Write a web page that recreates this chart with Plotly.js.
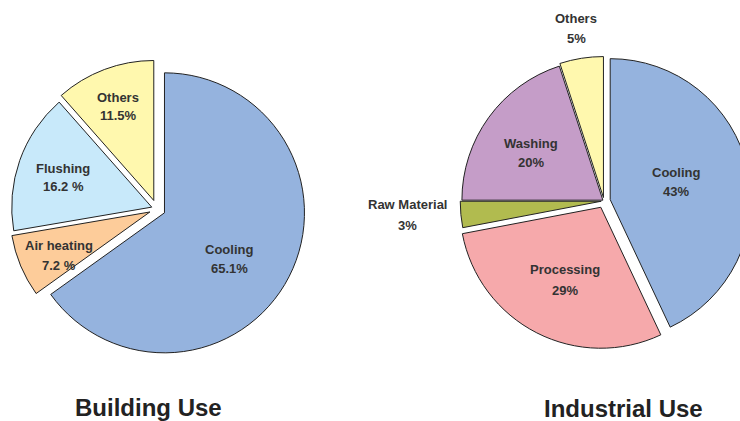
<!DOCTYPE html>
<html>
<head>
<meta charset="utf-8">
<script src="https://cdn.plot.ly/plotly-3.0.1.min.js"></script>
<style>
  html, body { margin: 0; padding: 0; background: #fff; overflow: hidden; }
  #wrap { width: 740px; height: 421px; overflow: hidden; position: relative; }
  #chart { width: 770px; height: 421px; }
</style>
</head>
<body>
<div id="wrap"><div id="chart"></div></div>
<script>
// ---- Data ----
const buildingLabels = ["Cooling", "Air heating", "Flushing", "Others"];
const buildingValues = [65.1, 7.2, 16.2, 11.5];
const buildingPctText = ["65.1%", "7.2 %", "16.2 %", "11.5%"];

const industrialLabels = ["Cooling", "Processing", "Raw Material", "Washing", "Others"];
const industrialValues = [43, 29, 3, 20, 5];
const industrialPctText = ["43%", "29%", "3%", "20%", "5%"];

const chartTitles = ["Building Use", "Industrial Use"];

// ---- Styles / layout positions (pixels) ----
const W = 770, H = 421;
const buildingColors = ["#95B3DE", "#FDCC9A", "#C8E9FA", "#FFF8AE"];
const industrialColors = ["#95B3DE", "#F6A9AB", "#B1BB4F", "#C59DC8", "#FFF8AE"];
const FONT = "Liberation Sans, Arial, sans-serif";
const labelFont = { family: FONT, size: 13, color: "#333333", weight: "bold" };
const titleFont = { family: FONT, size: 24, color: "#222222", weight: "bold" };

// label positions: [x, y of name line, y of percent line]
const buildingLabelPos = [[229, 249, 268], [59, 245, 265], [63, 168, 187], [118, 97, 115]];
const industrialLabelPos = [[676, 172, 192], [565, 269, 290], [407, 204, 225], [531, 143, 163], [576, 18, 39]];
const titlePos = [[148.5, 407], [623.5, 408]];

function dom(x0, x1, y0, y1) {
  return { x: [x0 / W, x1 / W], y: [1 - y1 / H, 1 - y0 / H] };
}

function pieTrace(labels, values, colors, pull, domain) {
  return {
    type: "pie",
    labels: labels,
    values: values,
    textinfo: "none",
    sort: false,
    direction: "clockwise",
    rotation: 0,
    pull: pull,
    marker: { colors: colors, line: { color: "#222222", width: 1 } },
    domain: domain,
    hoverinfo: "none",
    showlegend: false
  };
}

const traces = [
  pieTrace(buildingLabels, buildingValues, buildingColors,
           [0.06, 0.055, 0.04, 0.065], dom(7.9, 306.1, 59.9, 358.1)),
  pieTrace(industrialLabels, industrialValues, industrialColors,
           [0.045, 0.05, 0.02, 0.01, 0.025], dom(456, 752, 53, 349))
];

function textAnn(text, px, py, font) {
  return {
    text: text, xref: "paper", yref: "paper",
    x: px / W, y: 1 - py / H, xanchor: "center", yanchor: "middle",
    showarrow: false, font: font
  };
}

const annotations = [];
function addLabels(labels, pcts, pos) {
  labels.forEach((lab, i) => {
    annotations.push(textAnn(lab, pos[i][0], pos[i][1], labelFont));
    annotations.push(textAnn(pcts[i], pos[i][0], pos[i][2], labelFont));
  });
}
addLabels(buildingLabels, buildingPctText, buildingLabelPos);
addLabels(industrialLabels, industrialPctText, industrialLabelPos);
chartTitles.forEach((t, i) => annotations.push(textAnn(t, titlePos[i][0], titlePos[i][1], titleFont)));

const layout = {
  width: W,
  height: H,
  margin: { l: 0, r: 0, t: 0, b: 0 },
  paper_bgcolor: "#ffffff",
  showlegend: false,
  annotations: annotations
};

Plotly.newPlot("chart", traces, layout, { displayModeBar: false, staticPlot: true });
</script>
</body>
</html>
